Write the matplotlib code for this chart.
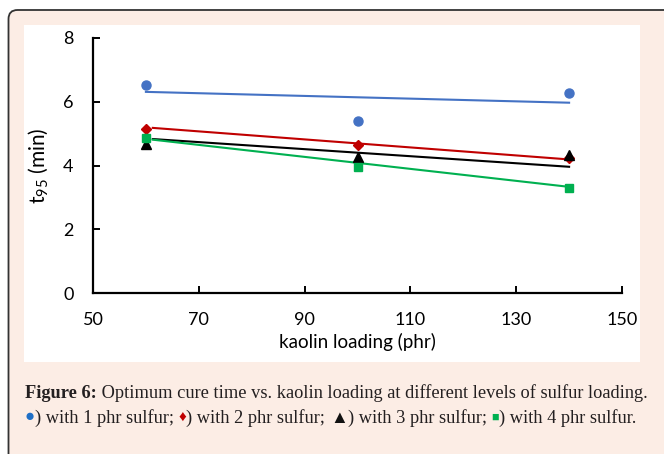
import numpy as np
import matplotlib
matplotlib.use("Agg")
import matplotlib.pyplot as plt
from matplotlib.patches import FancyBboxPatch, Rectangle

plt.rcParams["mathtext.fontset"] = "custom"
plt.rcParams["mathtext.rm"] = "Lato"

# kaolin loading (phr)
kaolin = [60, 100, 140]
# t95 (min) for each sulfur level
s1 = [6.54, 5.40, 6.28]
s2 = [5.13, 4.63, 4.24]
s3 = [4.68, 4.27, 4.33]
s4 = [4.85, 3.96, 3.28]

# trendlines as drawn in the figure (start x, value at start, value at 140)
trend_x0 = [60, 61.3, 61.3, 61.3]
trend_x1 = 140
trend_y0 = [6.31, 5.18, 4.83, 4.81]
trend_y1 = [5.97, 4.19, 3.96, 3.33]

xticks = [50, 70, 90, 110, 130, 150]
yticks = [0, 2, 4, 6, 8]

colors = ["#4472C4", "#C00000", "#000000", "#00B050"]
markers = [("o", 6.5), ("D", 5), ("^", 7), ("s", 6)]

fig = plt.figure(figsize=(6.64, 4.54), dpi=100)
fig.patch.set_facecolor("white")

# outer peach box with rounded border, inner white panel
outer = FancyBboxPatch((0.085, -0.6), 7.2, 5.04, boxstyle="round,pad=0,rounding_size=0.09",
                       transform=fig.dpi_scale_trans, facecolor="#FCEDE5",
                       edgecolor="#333333", linewidth=1.3, zorder=0)
fig.patches.append(outer)
panel = Rectangle((0.24, 0.92), 6.16, 3.37, transform=fig.dpi_scale_trans,
                  facecolor="white", edgecolor="none", zorder=1)
fig.patches.append(panel)

ax = fig.add_axes([93 / 664, 1 - 293 / 454, 529 / 664, 255 / 454])
ax.set_facecolor("none")
ax.set_zorder(2)

for i in range(4):
    ax.plot([trend_x0[i], trend_x1], [trend_y0[i], trend_y1[i]],
            color=colors[i], lw=1.5, zorder=2)
for i, ys in enumerate([s1, s2, s3, s4]):
    mk, ms = markers[i]
    ax.plot(kaolin, ys, linestyle="none", marker=mk, color=colors[i], ms=ms, zorder=3)

ax.set_xlim(50, 150)
ax.set_ylim(0, 8)
ax.set_xticks(xticks)
ax.set_yticks(yticks)
for s in ["top", "right"]:
    ax.spines[s].set_visible(False)
for s in ["left", "bottom"]:
    ax.spines[s].set_linewidth(1.6)
ax.tick_params(direction="in", length=5, width=1.4, labelsize=13, pad=14)
for lab in ax.get_xticklabels() + ax.get_yticklabels():
    lab.set_family("Lato")
ax.set_xlabel("kaolin loading (phr)", fontsize=13.5, family="Lato", labelpad=3)
ax.set_ylabel("t$_\\mathregular{95}$ (min)", fontsize=15, family="Lato")
ax.yaxis.set_label_coords(-0.08, 0.5)

# caption
serif = ["Liberation Serif", "DejaVu Serif"]
fs = 13.2
ink = "#231F20"
r = fig.canvas.get_renderer()


def place(pieces, x0, y):
    x = x0
    for txt, col, size, wt, dy in pieces:
        t = fig.text(x / 664, 1 - (y - dy) / 454, txt, fontsize=size, family=serif,
                     color=col, weight=wt, va="baseline")
        x += t.get_window_extent(r).width
    return x


place([("Figure 6:", ink, fs, "bold", 0),
       (" Optimum cure time vs. kaolin loading at different levels of sulfur loading.", ink, fs, "normal", 0)],
      25, 398)
place([
    ("●", "#1F6FC6", 12, "normal", 1.5), (") with 1 phr sulfur; ", ink, fs, "normal", 0),
    ("♦", "#C00000", 11, "normal", 1.5), (") with 2 phr sulfur; ", ink, fs, "normal", 0),
    ("▲", "#111111", 13, "normal", 0), (") with 3 phr sulfur; ", ink, fs, "normal", 0),
    ("■", "#00B050", 9, "normal", 2), (") with 4 phr sulfur.", ink, fs, "normal", 0),
], 25, 423)

fig.savefig("out.png", dpi=100)
